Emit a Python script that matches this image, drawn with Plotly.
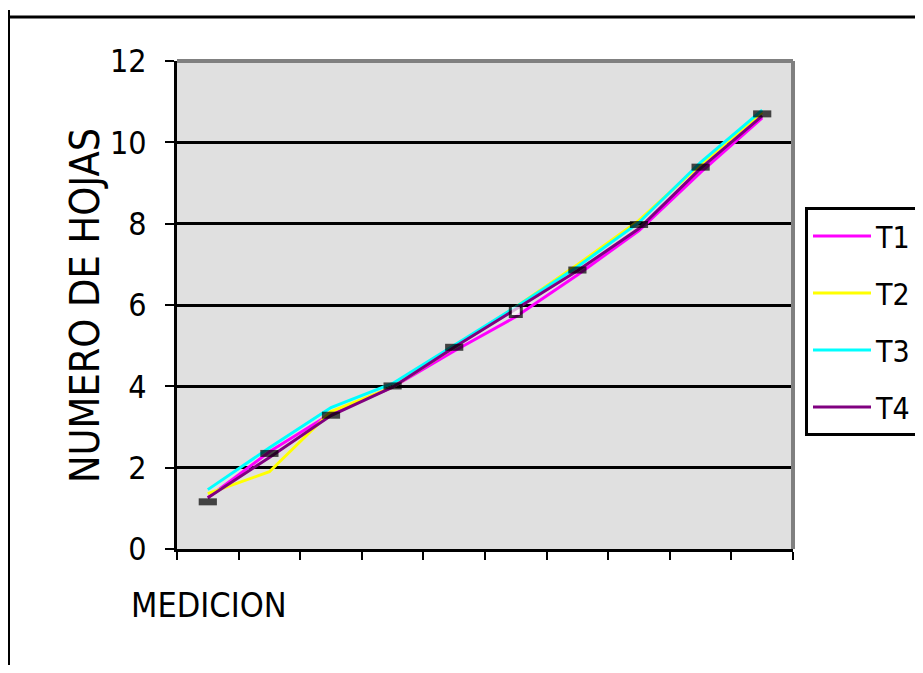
import plotly.graph_objects as go

categories = ["1", "2", "3", "4", "5", "6", "7", "8", "9", "10"]
t1 = [1.26, 2.39, 3.33, 3.98, 4.87, 5.71, 6.74, 7.83, 9.26, 10.6]
t2 = [1.36, 1.9, 3.38, 3.98, 4.96, 5.95, 6.99, 8.08, 9.46, 10.74]
t3 = [1.46, 2.49, 3.48, 4.07, 5.01, 5.95, 6.94, 8.03, 9.51, 10.79]
t4 = [1.26, 2.25, 3.28, 3.98, 4.96, 5.9, 6.84, 7.88, 9.36, 10.65]
markers = [1.16, 2.35, 3.29, 4.01, 4.96, 5.85, 6.86, 7.98, 9.39, 10.7]
series_names = ["T1", "T2", "T3", "T4"]
series_colors = ["#FF00FF", "#FFFF00", "#00FFFF", "#800080"]

FONT = "DejaVu Sans Condensed, Liberation Sans Narrow, sans-serif"

fig = go.Figure()
for name, vals, col in zip(series_names, [t1, t2, t3, t4], series_colors):
    fig.add_trace(go.Scatter(x=categories, y=vals, name=name, mode="lines",
                             line=dict(color=col, width=3), legendgroup=name))

hollow_idx = 5
symbols = ["square" if i == hollow_idx else "line-ew" for i in range(len(markers))]
sizes = [11 if i == hollow_idx else 13 for i in range(len(markers))]
fills = ["white" if i == hollow_idx else "black" for i in range(len(markers))]
lws = [3 if i == hollow_idx else 7 for i in range(len(markers))]
fig.add_trace(go.Scatter(x=categories, y=markers, mode="markers", showlegend=False,
                         marker=dict(symbol=symbols, size=sizes, color=fills,
                                     line=dict(color="black", width=lws))))

# page offset (body margin) of the browser
OFF = 8
W, H = 923 - 2 * OFF, 673 - 2 * OFF
# plot area in window pixels
L, R, T, B = 177, 793, 61, 549

def px(x):
    return (x - L) / (R - L)

def py(y):
    return (B - y) / (B - T)

fig.update_layout(
    width=W, height=H,
    margin=dict(l=L - OFF, r=W - (R - OFF), t=T - OFF, b=H - (B - OFF), pad=0,
                autoexpand=False),
    paper_bgcolor="white", plot_bgcolor="#E0E0E0",
    font=dict(family=FONT, color="black", size=30),
    legend=dict(x=px(805), y=py(207), xanchor="left", yanchor="top",
                bgcolor="white", bordercolor="black", borderwidth=3,
                font=dict(size=30, family=FONT), traceorder="grouped",
                tracegroupgap=15, itemwidth=58),
    showlegend=True,
)
fig.update_xaxes(type="category", range=[-0.5, 9.5], showgrid=False,
                 showline=True, linecolor="black", linewidth=3,
                 ticks="outside", ticklen=8, tickwidth=2, tickcolor="black",
                 tickson="boundaries", showticklabels=False, zeroline=False)
fig.update_yaxes(range=[0, 12], dtick=2, showgrid=True, gridcolor="black", gridwidth=3,
                 showline=True, linecolor="black", linewidth=3,
                 ticks="outside", ticklen=9, tickwidth=2, tickcolor="black",
                 ticklabelstandoff=12, tickfont=dict(size=32, family=FONT),
                 zeroline=False)

shapes = [
    dict(type="line", xref="paper", yref="paper", x0=0, x1=1, y0=1, y1=1,
         line=dict(color="#808080", width=4)),
    dict(type="line", xref="paper", yref="paper", x0=1, x1=1, y0=0, y1=1,
         line=dict(color="#808080", width=4)),
    dict(type="line", xref="paper", yref="paper", x0=px(8), x1=px(930), y0=py(17), y1=py(17),
         line=dict(color="black", width=3)),
    dict(type="line", xref="paper", yref="paper", x0=px(9), x1=px(9), y0=py(10), y1=py(680),
         line=dict(color="black", width=2)),
]
fig.update_layout(shapes=shapes)

fig.add_annotation(text="NUMERO DE HOJAS", xref="paper", yref="paper",
                   x=px(85), y=py(306), xanchor="center", yanchor="middle",
                   textangle=-90, showarrow=False, font=dict(size=41, family=FONT))
fig.add_annotation(text="MEDICION", xref="paper", yref="paper",
                   x=px(129), y=py(605), xanchor="left", yanchor="middle",
                   showarrow=False, font=dict(size=34, family=FONT))

fig.write_html("out.html")
